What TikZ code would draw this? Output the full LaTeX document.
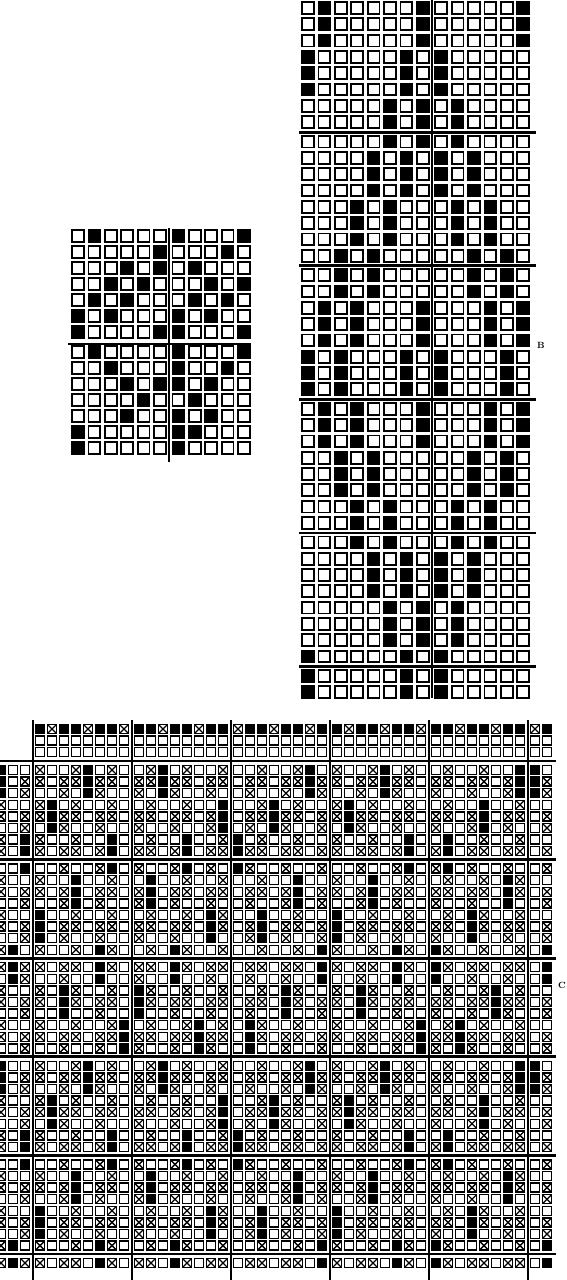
\documentclass[tikz,border=0pt]{standalone}
\usepackage{tikz}
\usetikzlibrary{positioning}

% draft B: one row state for every three picks
\def\bsta{0,1,0,0,0,0,0,1,0,0,0,0,0,1}
\def\bstb{1,0,0,0,0,0,1,0,1,0,0,0,0,0}
\def\bstc{0,0,0,0,0,1,0,1,0,1,0,0,0,0}
\def\bstd{0,0,0,0,1,0,1,0,1,0,1,0,0,0}
\def\bste{0,0,0,1,0,1,0,0,0,1,0,1,0,0}
\def\bstf{0,0,1,0,1,0,0,0,0,0,1,0,1,0}
\def\bstg{0,1,0,1,0,0,0,1,0,0,0,1,0,1}
\def\bsth{1,0,1,0,0,0,1,0,1,0,0,0,1,0}
% cloth C: black column offset per group, cross table
\def\coff{{5,4,2,6,4,7,0}}
\def\xtab{{1,0,0,1,0,1,0,0,1}}

\begin{document}
\begin{tikzpicture}[x=1pt, y=-1pt,
  sq0/.style={draw, line width=1.9pt, fill=white},
  sq1/.style={draw, line width=1.9pt, fill=black},
  cq0/.style={draw, line width=1.5pt, fill=white},
  cq1/.style={draw, line width=1.5pt, fill=black},
  cq2/.style={cq0, path picture={\draw[line width=1.3pt]
      (path picture bounding box.south west) -- (path picture bounding box.north east)
      (path picture bounding box.north west) -- (path picture bounding box.south east);}},
  rule/.style={line width=2.8pt},
  lbl/.style={font=\small\bfseries, inner sep=0pt}]
\useasboundingbox (0,0) rectangle (567,1280);

% A
\foreach \row [count=\r from 0] in {{0,1,0,0,0,0,1,0,0,0,1},{0,0,0,0,0,1,0,0,0,1,0},
    {0,0,0,1,0,1,0,1,0,0,0},{0,0,1,0,1,0,0,0,1,0,1},{0,1,0,1,0,0,0,1,0,1,0},
    {1,0,1,0,0,0,1,0,1,0,0},{1,0,0,0,0,1,1,0,0,0,1},{0,1,0,0,0,0,1,0,0,0,1},
    {0,0,1,0,0,0,1,0,0,1,0},{0,0,0,1,0,1,1,0,1,0,0},{0,0,0,0,1,0,0,1,0,0,0},
    {0,0,0,1,0,0,1,0,1,0,0},{1,0,0,0,0,0,1,1,0,0,0},{1,0,0,0,0,0,1,0,0,0,0}}{
  \pgfmathsetmacro\yy{\r<7 ? 236+16*\r : 240+16*\r}
  \foreach \v [count=\c from 0] in \row{
    \pgfmathsetmacro\xx{\c<6 ? 78+16.4*\c : 80+16.4*\c}
    \draw[sq\v] (\xx-5.9,\yy-5.9) rectangle (\xx+5.9,\yy+5.9);
  }
}
\draw[rule] (68,344) -- (251,344);
\draw[rule] (169,228) -- (169,462);

% B
\foreach \s [count=\p from 0] in {a,b,c,d,e,f,g,h,g,f,e,d,c,b}{
  \edef\row{\csname bst\s\endcsname}
  \foreach \j in {0,1,2}{
    \pgfmathtruncatemacro\r{3*\p+\j}
    \pgfmathsetmacro\yy{8+133.6*int(\r/8)+16.3*Mod(\r,8)}
    \foreach \v [count=\c from 0] in \row{
      \pgfmathsetmacro\xx{\c<8 ? 308+16.4*\c : 310+16.4*\c}
      \draw[sq\v] (\xx-5.9,\yy-5.9) rectangle (\xx+5.9,\yy+5.9);
    }
  }
}
\foreach \k in {1,...,5} \draw[rule] (299,133.6*\k-1.5) -- (536,133.6*\k-1.5);
\draw[rule] (432,0) -- (432,698);
\node[lbl] (labB) at (541,345) {B};

% C, top strip
\foreach \j in {0,1,2}{
  \pgfmathsetmacro\yy{729+11.6*\j}
  \foreach \g in {1,...,6}{
    \foreach \l in {0,...,7}{
      \pgfmathsetmacro\xx{-59+99*\g+12*\l}
      \ifdim\xx pt>552pt\relax\else
        \pgfmathtruncatemacro\kd{\j>0 ? 0 : (Mod(8*\g+\l-8,3)==1 ? 2 : 1)}
        \draw[cq\kd] (\xx-4.5,\yy-4.5) rectangle (\xx+4.5,\yy+4.5);
      \fi
    }
  }
}
% C, cloth
\foreach \R in {0,...,40}{
  \pgfmathsetmacro\yy{770+98.6*int(\R/8)+11.6*Mod(\R,8)}
  \pgfmathtruncatemacro\ph{Mod(\R,3)}
  \foreach \g in {0,...,6}{
    \foreach \l in {0,...,7}{
      \pgfmathsetmacro\xx{-59+99*\g+12*\l}
      \ifdim\xx pt<-5pt\relax\else\ifdim\xx pt>552pt\relax\else
        \pgfmathtruncatemacro\m{Mod(8*\g+\l+16,3)}
        \pgfmathtruncatemacro\isx{\xtab[3*\ph+\m]}
        \pgfmathtruncatemacro\kd{\l==Mod(\coff[\g]-3*int(\R/3),8) ? 1 : 2*\isx}
        \draw[cq\kd] (\xx-4.5,\yy-4.5) rectangle (\xx+4.5,\yy+4.5);
      \fi\fi
    }
  }
}
\foreach \k in {0,...,5} \draw[rule] (0,761+98.6*\k) -- (556,761+98.6*\k);
\foreach \m in {0,...,5} \draw[rule] (33+99*\m,720) -- (33+99*\m,1280);
\node[lbl] (labC) at (562,985) {C};
\end{tikzpicture}
\end{document}
